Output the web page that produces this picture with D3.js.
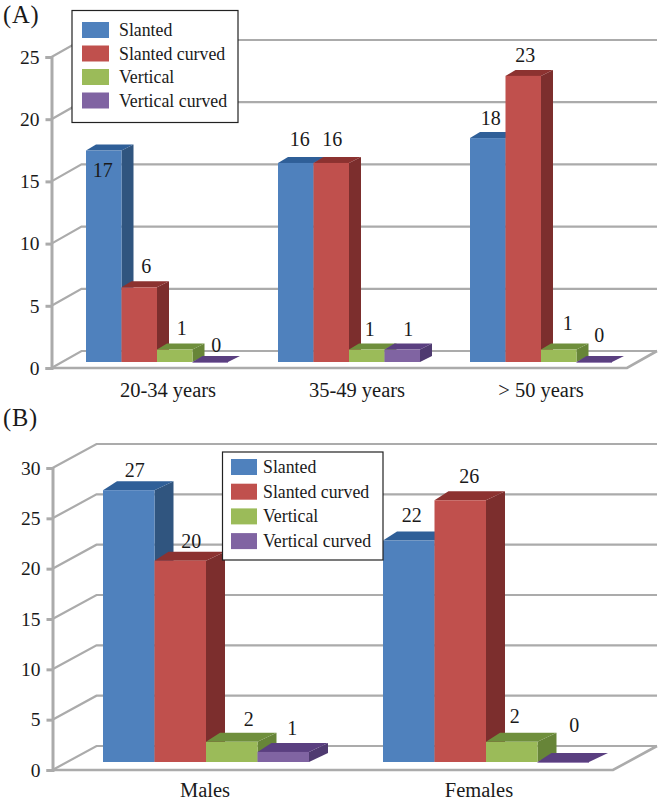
<!DOCTYPE html>
<html><head><meta charset="utf-8">
<script src="https://d3js.org/d3.v7.min.js"></script>
<style>html,body{margin:0;padding:0;background:#fff}svg{display:block}text{font-family:"Liberation Serif","Times New Roman",serif;fill:#1a1a1a}</style>
</head><body><svg id="c" width="660" height="800"></svg>
<script>
const seriesNames = ["Slanted","Slanted curved","Vertical","Vertical curved"];
const frontColors = ["#4F81BD","#C0504D","#9BBB59","#8064A2"];
const topColors   = ["#2F5F98","#8C3230","#6F8F3C","#5A3F80"];
const sideColors  = ["#30557F","#7C2E2D","#678538","#4F3A70"];

const categoriesA = ["20-34 years","35-49 years","> 50 years"];
const slantedA = [17,16,18];
const slantedCurvedA = [6,16,23];
const verticalA = [1,1,1];
const verticalCurvedA = [0,1,0];

const categoriesB = ["Males","Females"];
const slantedB = [27,22];
const slantedCurvedB = [20,26];
const verticalB = [2,2];
const verticalCurvedB = [1,0];

const ticksA = [0,5,10,15,20,25];
const ticksB = [0,5,10,15,20,25,30];

const svg = d3.select("#c");

function panel(o){
  const g = svg.append("g");
  const y = d3.scaleLinear().domain(o.domain).range([o.y0,o.y1]);
  const gridCol = "#ABABAB";
  // side-wall stubs and back gridlines
  o.ticks.forEach(t=>{
    g.append("path").attr("fill","none").attr("stroke",gridCol).attr("stroke-width",2.2)
      .attr("d",d3.line()([[o.xFront,y(t)],[o.xFront+o.backDx,y(t)+o.backDy],[o.xBackEnd,y(t)+o.backDy]]));
  });
  // floor
  g.append("path").attr("fill","none").attr("stroke",gridCol).attr("stroke-width",2.6)
    .attr("d",d3.line()([[o.xFront,y(0)],[o.xFrontEnd,y(0)],[o.xBackEnd,y(0)+o.backDy]]));
  // y axis
  const ax = g.append("g").attr("transform",`translate(${o.xFront},0)`)
    .call(d3.axisLeft(y).tickValues(o.ticks).tickSize(6).tickPadding(6).tickFormat(d3.format("d")));
  ax.selectAll("path,line").attr("stroke",gridCol).attr("stroke-width",3);
  ax.selectAll("text").attr("font-size",o.tickSize).style("font-family",'"Liberation Serif"').attr("fill","#1a1a1a");

  // bars
  const x0 = d3.scaleBand().domain(o.categories).range(o.xRange);
  const x1 = d3.scaleBand().domain(seriesNames).range([-o.groupW/2,o.groupW/2]);
  const w = x1.bandwidth();
  o.categories.forEach((c,ci)=>{
    const cx = x0(c)+x0.bandwidth()/2;
    seriesNames.forEach((s,si)=>{
      const v = o.values[si][ci];
      const xl = cx+x1(s), xr = xl+w;
      const base = y(0)-o.lift, top = y(v)-o.lift;
      const p = a=>a.join(" ");
      if(v>0) g.append("polygon").attr("fill",sideColors[si])
        .attr("points",p([[xr,top],[xr+o.dr,top-o.dd],[xr+o.dr,base-o.dd],[xr,base]]));
      g.append("polygon").attr("fill",topColors[si])
        .attr("points",p([[xl,top],[xl+o.dl,top-o.dd],[xr+o.dr,top-o.dd],[xr,top]]));
      g.append("rect").attr("x",xl).attr("y",top).attr("width",w).attr("height",Math.max(base-top,0.8)).attr("fill",frontColors[si]);
    });
  });
  // value labels
  o.categories.forEach((c,ci)=>{
    const cx = x0(c)+x0.bandwidth()/2;
    seriesNames.forEach((s,si)=>{
      const v = o.values[si][ci];
      const n = o.nudge[ci][si];
      g.append("text").attr("text-anchor","middle").attr("font-size",o.valueSize)
        .attr("x",cx+x1(s)+w/2+n[0]).attr("y",y(v)-o.lift+n[1]).text(v);
    });
    g.append("text").attr("text-anchor","middle").attr("font-size",o.catSize)
      .attr("x",cx+o.catNudge[ci]).attr("y",o.catY).text(c);
  });
  // legend
  const L = o.legend;
  g.append("rect").attr("x",L.x).attr("y",L.y).attr("width",L.w).attr("height",L.h)
    .attr("fill","#fff").attr("stroke","#222").attr("stroke-width",1.2);
  seriesNames.forEach((s,i)=>{
    const ty = L.first+i*L.step;
    g.append("rect").attr("x",L.x+L.sx).attr("y",ty-14).attr("width",L.sw).attr("height",16).attr("fill",frontColors[i]);
    g.append("text").attr("x",L.x+L.tx).attr("y",ty).attr("font-size",L.size).text(s);
  });
  g.append("text").attr("x",3).attr("y",o.titleY).attr("font-size",24.5).attr("letter-spacing",0.8).text(o.title);
}

panel({
  title:"(A)",titleY:23,domain:[0,25],y0:368,y1:57,ticks:ticksA,tickSize:19.5,
  xFront:51.5,xFrontEnd:627,xBackEnd:657,backDx:30,backDy:-17,
  categories:categoriesA,values:[slantedA,slantedCurvedA,verticalA,verticalCurvedA],
  xRange:[61,637],groupW:142,lift:6,dl:10,dr:12,dd:6,
  valueSize:20,catSize:20.5,catY:397,catNudge:[11,8,0],
  nudge:[[[-1,26],[7,-14],[7,-15],[6,-10]],[[4,-17],[1,-17],[3,-14],[6,-14]],[[3,-13],[2,-14],[9,-20],[5,-20]]],
  legend:{x:72,y:10.5,w:166,h:112,sx:10,sw:27,tx:47,first:36,step:23.5,size:17.8}
});
panel({
  title:"(B)",titleY:426,domain:[0,30],y0:770,y1:468,ticks:ticksB,tickSize:19.5,
  xFront:52.5,xFrontEnd:613,xBackEnd:657,backDx:44,backDy:-24,
  categories:categoriesB,values:[slantedB,slantedCurvedB,verticalB,verticalCurvedB],
  xRange:[66,626],groupW:206,lift:8,dl:14,dr:19,dd:9,
  valueSize:20,catSize:20.5,catY:797,catNudge:[-1,-7],
  nudge:[[[6,-13],[11,-13],[17,-16],[9,-17]],[[3,-19],[9,-17],[3,-19],[11,-30]]],
  legend:{x:222.5,y:452,w:160.5,h:108,sx:8.5,sw:26,tx:40.5,first:473,step:24.7,size:17.8}
});
</script></body></html>
